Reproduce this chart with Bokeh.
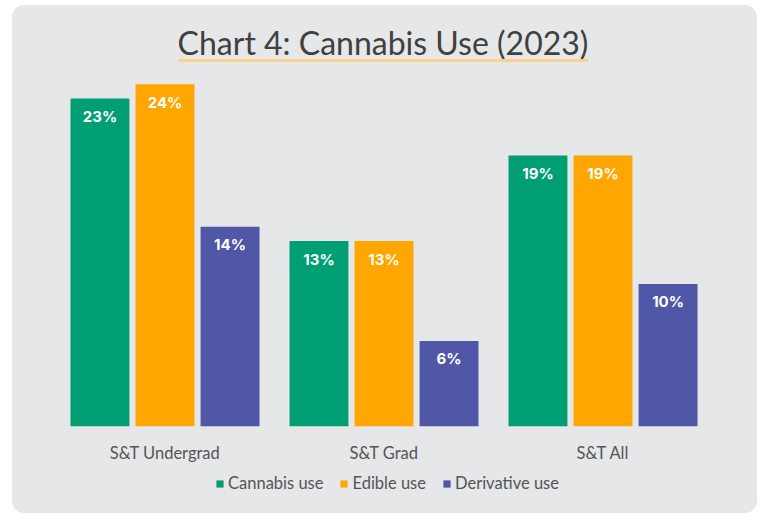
from bokeh.plotting import figure
from bokeh.layouts import column
from bokeh.models import ColumnDataSource, FactorRange, Range1d, Legend, LegendItem, Label, BoxAnnotation
from bokeh.transform import dodge
from bokeh.embed import file_html
from bokeh.resources import INLINE
from bokeh.core.properties import value

groups = ["S&T Undergrad", "S&T Grad", "S&T All"]
series = ["Cannabis use", "Edible use", "Derivative use"]
cannabis = [23, 13, 19]
edible = [24, 13, 19]
derivative = [14, 6, 10]
colors = ["#009e73", "#ffa600", "#5157a7"]
title_text = "Chart 4: Cannabis Use (2023)"

FONT = "Lato"
BG = "#e6e7e9"
W = 745

p = figure(x_range=FactorRange(*groups), y_range=Range1d(0, 29.52),
           width=W, height=463, output_backend="svg", toolbar_location=None,
           y_axis_location=None,
           min_border_left=43, min_border_right=45, min_border_top=0, min_border_bottom=42)
p.background_fill_color = None
p.border_fill_color = None
p.outline_line_color = None
p.grid.visible = False

offsets = [-0.297, 0.0, 0.297]
renderers = []
for name, vals, col, off in zip(series, [cannabis, edible, derivative], colors, offsets):
    src = ColumnDataSource(dict(g=groups, v=vals, lab=[f"{v}%" for v in vals]))
    r = p.vbar(x=dodge("g", off, range=p.x_range), top="v", width=0.269, source=src,
               fill_color=col, line_color=None)
    renderers.append(r)
    p.text(x=dodge("g", off, range=p.x_range), y="v", text="lab", source=src,
           y_offset=18, text_align="center", text_baseline="middle",
           text_color="white", text_font=value("Inter"), text_font_style="bold",
           text_font_size="15px")

ax = p.xaxis[0]
ax.axis_line_color = None
ax.major_tick_line_color = None
ax.minor_tick_line_color = None
ax.major_label_standoff = 10
ax.major_label_text_font = FONT
ax.major_label_text_font_size = "16.5px"
ax.major_label_text_color = "#555555"

title = Label(x=327.5, y=384, x_units="screen", y_units="screen", text=title_text,
              text_align="center", text_baseline="alphabetic",
              text_font=FONT, text_font_size="32px", text_color="#404040")
p.add_layout(title)

underline = BoxAnnotation(left=123, right=533, bottom=364.5, top=367.5,
                          left_units="screen", right_units="screen",
                          bottom_units="screen", top_units="screen",
                          fill_color="#fdd18b", fill_alpha=1, line_color=None)
p.add_layout(underline)

# legend strip
p2 = figure(x_range=Range1d(0, 1), y_range=Range1d(0, 1), width=W, height=45,
            output_backend="svg", toolbar_location=None,
            x_axis_location=None, y_axis_location=None,
            min_border_left=0, min_border_right=0, min_border_top=0, min_border_bottom=0)
p2.background_fill_color = None
p2.border_fill_color = None
p2.outline_line_color = None
p2.grid.visible = False
dummies = []
for col in colors:
    dummies.append(p2.rect(x=[-5], y=[-5], width=1, height=1,
                           fill_color=col, line_color=None))

legend = Legend(items=[LegendItem(label=s, renderers=[r]) for s, r in zip(series, dummies)],
                orientation="horizontal", location=(160, 20),
                background_fill_alpha=0, border_line_color=None,
                padding=0, margin=0, spacing=16, label_standoff=4,
                glyph_width=9, glyph_height=9,
                label_text_font=FONT, label_text_font_size="16.5px", label_text_color="#555555")
p2.add_layout(legend, "center")

lay = column(p, p2, spacing=0,
             styles={"background-color": BG, "border-radius": "12px",
                     "margin-left": "12px", "margin-top": "5px"})

open("out.html", "w").write(file_html(lay, INLINE))
